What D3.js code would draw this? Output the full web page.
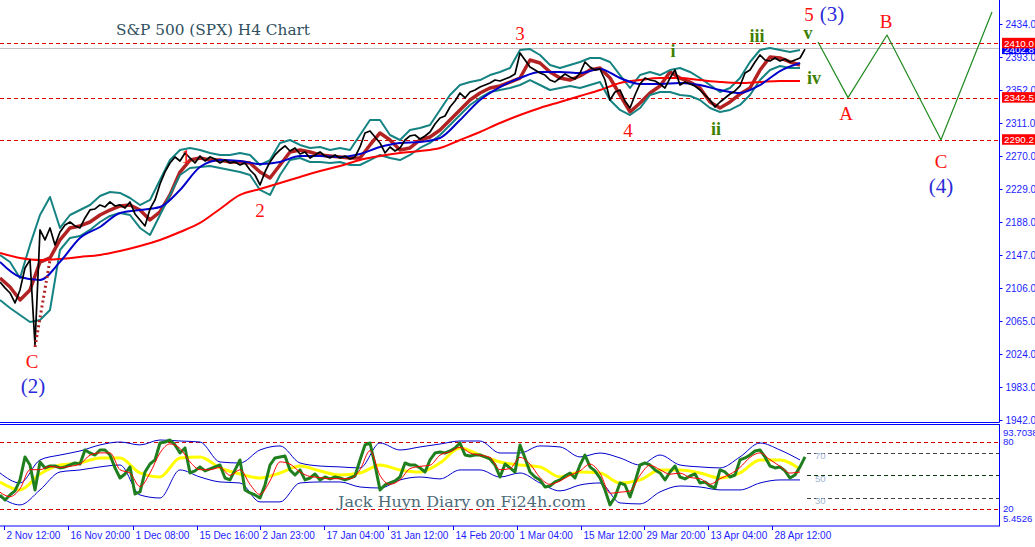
<!DOCTYPE html>
<html>
<head>
<meta charset="utf-8">
<script src="https://cdn.jsdelivr.net/npm/d3@7"></script>
<style>
  body { margin: 0; background: #fff; }
  svg { display: block; }
</style>
</head>
<body>
<svg id="chart" width="1035" height="547"></svg>
<script>
// ---- data ----

// closes, one value every 5 bars
const closeStep = 5
const closes = [2113.5, 2106.1, 2099.8, 2087.4, 2103.6, 2130.9, 2140.8, 2035.3, 2178.1, 2165.7,
  2180.6, 2159.5, 2175.6, 2184.3, 2188.0, 2183.1, 2180.6, 2193.0, 2203.0, 2204.2,
  2209.2, 2206.7, 2212.9, 2207.9, 2209.2, 2205.4, 2212.9, 2198.0, 2190.5, 2183.1,
  2204.2, 2215.4, 2235.2, 2250.2, 2261.3, 2268.8, 2263.8, 2273.8, 2267.5, 2261.3,
  2270.0, 2263.8, 2268.8, 2266.3, 2261.3, 2265.1, 2261.3, 2262.6, 2258.8, 2261.3,
  2252.6, 2246.4, 2234.0, 2250.2, 2262.6, 2271.3, 2277.5, 2282.5, 2276.2, 2280.0,
  2272.5, 2275.0, 2267.5, 2271.3, 2275.0, 2270.0, 2267.5, 2271.3, 2267.5, 2270.0,
  2266.3, 2268.8, 2281.2, 2298.6, 2301.1, 2293.6, 2286.2, 2273.8, 2281.2, 2276.2,
  2280.0, 2289.9, 2294.9, 2296.1, 2291.1, 2294.9, 2299.8, 2309.8, 2317.2, 2319.7,
  2330.9, 2338.4, 2348.3, 2342.1, 2349.5, 2352.0, 2355.7, 2358.2, 2360.7, 2364.4,
  2363.2, 2365.7, 2368.2, 2371.9, 2398.0, 2389.3, 2380.6, 2376.9, 2373.1, 2370.6,
  2364.4, 2362.0, 2366.9, 2371.9, 2368.2, 2365.7, 2373.1, 2386.8, 2380.6, 2376.9,
  2378.1, 2364.4, 2339.6, 2349.5, 2352.0, 2338.4, 2329.7, 2345.8, 2359.5, 2366.9,
  2364.4, 2363.2, 2359.5, 2354.5, 2366.9, 2376.9, 2358.2, 2362.0, 2359.5, 2357.0,
  2352.0, 2345.8, 2339.6, 2330.9, 2337.1, 2342.1, 2347.0, 2350.8, 2357.0, 2373.1,
  2376.9, 2386.8, 2395.5, 2389.3, 2388.0, 2391.8, 2388.0, 2390.5, 2386.8, 2389.3,
  2391.8, 2402.8]

// overlays every 10 bars
const bandStep = 10
const envUpper = [2147.0, 2138.3, 2118.5, 2159.5, 2196.7, 2219.1, 2180.6, 2196.7, 2202.9, 2209.1,
  2220.3, 2225.3, 2224.1, 2217.8, 2209.1, 2215.4, 2240.2, 2265.0, 2277.5, 2280.0,
  2277.5, 2273.7, 2271.3, 2271.3, 2273.7, 2271.3, 2258.8, 2265.0, 2286.2, 2289.9,
  2283.7, 2280.0, 2281.2, 2277.5, 2280.0, 2277.5, 2296.1, 2314.7, 2314.7, 2296.1,
  2289.9, 2302.3, 2304.8, 2308.5, 2327.2, 2345.8, 2358.2, 2361.9, 2364.4, 2370.6,
  2374.4, 2379.3, 2401.7, 2402.9, 2395.5, 2383.1, 2379.3, 2383.1, 2386.8, 2391.8,
  2391.8, 2386.8, 2370.6, 2354.5, 2370.6, 2374.4, 2370.6, 2376.8, 2379.3, 2374.4,
  2366.9, 2358.2, 2349.5, 2354.5, 2366.9, 2386.8, 2401.7, 2404.2, 2401.7, 2399.2,
  2401.7]
const envLower = [2091.1, 2081.2, 2072.5, 2063.8, 2066.3, 2078.7, 2153.2, 2168.2, 2170.6, 2178.1,
  2188.0, 2195.5, 2199.2, 2196.7, 2180.6, 2171.9, 2196.7, 2221.6, 2246.4, 2255.1,
  2256.4, 2257.6, 2255.1, 2252.6, 2250.1, 2246.4, 2227.8, 2221.6, 2246.4, 2265.0,
  2267.5, 2262.6, 2262.6, 2261.3, 2262.6, 2258.8, 2258.8, 2265.0, 2271.3, 2267.5,
  2265.0, 2271.3, 2280.0, 2286.2, 2296.1, 2308.5, 2320.9, 2333.4, 2342.1, 2349.5,
  2352.0, 2354.5, 2358.2, 2364.4, 2358.2, 2352.0, 2354.5, 2357.0, 2354.5, 2358.2,
  2361.9, 2339.6, 2327.2, 2320.9, 2329.6, 2345.8, 2349.5, 2349.5, 2345.8, 2344.5,
  2339.6, 2329.6, 2324.7, 2327.2, 2333.4, 2345.8, 2364.4, 2376.8, 2381.8, 2379.3,
  2379.3]
const shiftedMa = [2118.5, 2107.3, 2091.1, 2103.6, 2138.3, 2143.3, 2165.7, 2180.6, 2183.1, 2188.0,
  2196.7, 2202.9, 2207.9, 2209.1, 2202.9, 2190.5, 2200.5, 2221.6, 2250.1, 2265.0,
  2267.5, 2265.0, 2265.0, 2262.6, 2262.6, 2261.3, 2250.1, 2242.7, 2258.8, 2275.0,
  2277.5, 2275.0, 2271.3, 2270.0, 2268.8, 2267.5, 2267.5, 2283.7, 2298.6, 2289.9,
  2277.5, 2280.0, 2289.9, 2293.6, 2302.3, 2314.7, 2327.2, 2339.6, 2348.3, 2354.5,
  2357.0, 2361.9, 2366.9, 2389.3, 2385.5, 2374.4, 2366.9, 2364.4, 2369.4, 2376.8,
  2379.3, 2366.9, 2345.8, 2324.7, 2335.9, 2348.3, 2357.0, 2374.4, 2366.9, 2361.9,
  2354.5, 2337.1, 2329.6, 2337.1, 2347.0, 2354.5, 2376.8, 2393.0, 2391.8, 2386.8,
  2383.1]

// moving averages every 20 bars
const maStep = 20
const blueMa = [2138.4, 2119.7, 2116.0, 2138.4, 2168.2, 2181.8, 2199.2, 2203.0, 2206.7, 2227.8,
  2256.4, 2265.1, 2263.8, 2260.1, 2262.6, 2270.0, 2270.0, 2268.8, 2272.5, 2281.2,
  2286.2, 2287.4, 2292.4, 2314.7, 2339.6, 2355.7, 2366.9, 2374.4, 2374.4, 2373.1,
  2378.1, 2366.9, 2359.5, 2359.5, 2360.7, 2358.2, 2352.0, 2348.3, 2358.2, 2375.6,
  2385.6]
const redMa = [2149.5, 2143.3, 2140.8, 2142.1, 2144.6, 2147.1, 2152.0, 2158.2, 2165.7, 2175.6,
  2186.8, 2204.2, 2221.6, 2229.0, 2236.5, 2243.9, 2251.4, 2257.6, 2265.1, 2270.0,
  2273.8, 2276.2, 2280.0, 2289.9, 2299.8, 2311.0, 2321.0, 2329.7, 2337.1, 2344.6,
  2352.0, 2360.7, 2364.4, 2366.9, 2366.9, 2364.4, 2362.0, 2360.7, 2362.0, 2363.2,
  2363.2]

// dotted leg from the (2) low, [bar, price]
const dottedLeg = [[35, 2032.8], [50, 2140.8]]

// levels
const levels = [2410.0, 2342.5, 2290.2]
const lastPrice = 2402.8

// projected path 5 - A - B - C - up, [bar, price]
const projection = [[818, 2411.6], [848, 2342.5], [887, 2420.3], [941, 2290.2], [992, 2448.9]]

// wave counts, [text, bar, price, kind]
const waves = [
  ['C', 32, 2014.1, 'red'], ['(2)', 33, 1984.3, 'blue'],
  ['1', 186, 2268.8, 'red'], ['2', 260, 2202.9, 'red'],
  ['3', 520, 2422.8, 'red'], ['4', 628, 2302.3, 'red'],
  ['i', 673, 2400.5, 'green'], ['ii', 716, 2303.6, 'green'],
  ['iii', 757, 2419.1, 'green'], ['iv', 814, 2366.9, 'green'], ['v', 808, 2422.8, 'green'],
  ['5', 809, 2446.4, 'red'], ['(3)', 832, 2446.4, 'blue'],
  ['A', 846, 2322.2, 'red'], ['B', 886, 2436.5, 'red'],
  ['C', 941, 2262.6, 'red'], ['(4)', 941, 2232.8, 'blue']
]

// oscillator
const rsiStep = 5
const rsi = [32.5, 28.0, 32.5, 36.1, 45.9, 66.4, 59.2, 37.0, 61.9, 56.6,
  58.3, 58.3, 56.6, 57.5, 59.2, 61.0, 60.1, 72.6, 69.9, 68.1,
  72.6, 72.6, 68.1, 56.6, 47.6, 51.2, 57.5, 33.4, 35.2, 53.0,
  60.1, 63.7, 78.8, 79.7, 81.5, 77.1, 69.9, 74.4, 52.1, 53.9,
  57.5, 53.9, 55.7, 57.5, 59.2, 47.6, 45.9, 54.8, 63.7, 37.0,
  34.3, 32.5, 29.8, 41.4, 59.2, 65.5, 66.4, 67.3, 54.8, 50.3,
  54.8, 45.9, 47.6, 51.2, 45.9, 48.5, 46.8, 48.5, 47.6, 45.9,
  47.6, 49.4, 63.7, 77.1, 78.8, 59.2, 37.0, 41.4, 43.2, 45.0,
  48.5, 61.0, 59.2, 59.2, 56.6, 53.0, 63.7, 69.9, 70.8, 69.9,
  71.7, 74.4, 78.8, 68.1, 67.3, 68.1, 68.1, 66.4, 64.6, 59.2,
  48.5, 60.1, 56.6, 53.0, 77.1, 65.5, 53.0, 48.5, 45.9, 39.6,
  40.5, 44.1, 45.9, 49.4, 52.1, 47.6, 59.2, 68.1, 57.5, 53.9,
  47.6, 37.0, 23.6, 30.7, 43.2, 41.4, 30.7, 44.1, 59.2, 61.0,
  59.2, 54.8, 52.1, 45.9, 53.0, 58.3, 48.5, 46.8, 49.4, 51.2,
  43.2, 44.1, 40.5, 38.7, 54.8, 53.0, 48.5, 50.3, 63.7, 65.5,
  68.1, 71.7, 72.6, 66.4, 58.3, 56.6, 57.5, 53.9, 47.6, 50.3,
  57.5, 66.4]
const signalStep = 10
const rsiSignal = [35, 31, 38, 55, 55, 58, 57, 58, 60, 68,
  70, 70, 55, 52, 40, 52, 70, 78, 74, 62,
  55, 55, 57, 50, 55, 42, 33, 45, 62, 60,
  53, 49, 48, 47, 47, 47, 55, 72, 50, 42,
  46, 56, 58, 59, 68, 71, 75, 70, 68, 66,
  55, 56, 66, 60, 48, 42, 45, 50, 54, 60,
  52, 34, 35, 36, 50, 59, 55, 51, 52, 48,
  47, 42, 47, 51, 57, 66, 70, 64, 58, 52,
  53]
const slowStep = 20
const rsiSlow = [44.1, 37.0, 51.2, 59.2, 61.0, 65.5, 65.5, 52.1, 48.5, 65.5,
  66.4, 56.6, 51.2, 47.6, 52.1, 58.3, 53.9, 50.3, 52.1, 59.2,
  54.8, 53.0, 61.0, 74.4, 68.1, 61.9, 59.2, 57.5, 48.5, 53.0,
  52.1, 43.2, 45.9, 54.8, 54.8, 52.1, 47.6, 52.1, 63.7, 63.7,
  55.7]
const rsiBandUp = [52.1, 43.2, 63.7, 68.1, 71.7, 77.1, 79.7, 77.1, 81.5, 80.6,
  79.7, 61.9, 61.0, 72.6, 76.2, 61.0, 58.3, 57.5, 56.6, 78.8,
  72.6, 75.3, 77.9, 80.6, 80.6, 69.9, 69.9, 76.2, 75.3, 66.4,
  69.9, 65.5, 59.2, 68.1, 59.2, 57.5, 56.6, 66.4, 78.8, 72.6,
  63.7]
const rsiBandLo = [30.7, 23.6, 37.0, 53.0, 54.8, 57.5, 59.2, 32.5, 29.8, 54.8,
  48.5, 44.1, 43.2, 26.3, 26.3, 43.2, 44.1, 44.1, 39.6, 38.7,
  45.9, 48.5, 46.8, 54.8, 54.8, 48.5, 52.1, 43.2, 36.1, 41.4,
  43.2, 25.4, 24.5, 35.2, 40.5, 39.6, 37.0, 37.0, 43.2, 45.9,
  45.9]
const rsiOuter = [80, 20]
const rsiInner = [70, 50, 30]
const rsiMin = 5.4526, rsiMax = 93.7038

// axes
const priceTicks = [2434, 2393, 2352, 2311, 2270, 2229, 2188, 2147, 2106, 2065, 2024, 1983, 1942]
const timeBars = [4, 68, 133, 197, 260, 324, 388, 453, 517, 581, 644, 708, 772]
const timeLabels = ['2 Nov 12:00', '16 Nov 20:00', '1 Dec 08:00', '15 Dec 16:00', '2 Jan 23:00',
  '17 Jan 04:00', '31 Jan 12:00', '14 Feb 20:00', '1 Mar 04:00', '15 Mar 12:00',
  '29 Mar 20:00', '13 Apr 04:00', '28 Apr 12:00']

// ---- layout ----
const plotRight = 999
const mainBottom = 422
const indTop = 424.5, indBottom = 526
const sans = '"Liberation Sans", Arial, sans-serif'
const serif = '"Liberation Serif", "Times New Roman", serif'
const axisBlue = '#0000ff'
const labelBlue = '#1c1cff'

const svg = d3.select('#chart')

const x = d3.scaleLinear().domain([0, plotRight]).range([0, plotRight])
const y = d3.scaleLinear().domain([1942, 2434]).range([420, 24])
const yi = d3.scaleLinear().domain([rsiMin, rsiMax]).range([525.3, 426.3])

const series = (values, step) => values.map((v, i) => [i * step, v])
const mainLine = curve => d3.line().x(d => x(d[0])).y(d => y(d[1])).curve(curve || d3.curveLinear)
const indLine = curve => d3.line().x(d => x(d[0])).y(d => yi(d[1])).curve(curve || d3.curveLinear)

const defs = svg.append('defs')
defs.append('clipPath').attr('id', 'clip-main')
  .append('rect').attr('x', 0).attr('y', 0).attr('width', plotRight).attr('height', mainBottom)
defs.append('clipPath').attr('id', 'clip-ind')
  .append('rect').attr('x', 0).attr('y', indTop).attr('width', plotRight).attr('height', indBottom - indTop)

// ---- main panel ----
const main = svg.append('g').attr('clip-path', 'url(#clip-main)')

main.selectAll('line.level').data(levels).enter()
  .append('line')
    .attr('class', 'level')
    .attr('x1', 0).attr('x2', plotRight)
    .attr('y1', d => Math.round(y(d)) + 0.5).attr('y2', d => Math.round(y(d)) + 0.5)
    .attr('stroke', '#e00000')
    .attr('stroke-dasharray', '4,3')

main.append('line')
  .attr('x1', 0).attr('x2', plotRight)
  .attr('y1', Math.round(y(lastPrice)) - 0.5).attr('y2', Math.round(y(lastPrice)) - 0.5)
  .attr('stroke', '#c0c0c0')

const drawMain = (data, color, width, curve) => main.append('path')
  .datum(data)
  .attr('d', mainLine(curve))
  .attr('fill', 'none')
  .attr('stroke', color)
  .attr('stroke-width', width)
  .attr('stroke-linejoin', 'round')

drawMain(series(shiftedMa, bandStep), '#b22222', 3.5)
drawMain(series(envUpper, bandStep), '#168383', 2)
drawMain(series(envLower, bandStep), '#168383', 2)
drawMain(series(redMa, maStep), '#ff0000', 2, d3.curveMonotoneX)
drawMain(series(blueMa, maStep), '#0000cc', 2, d3.curveMonotoneX)
drawMain(series(closes, closeStep), '#000000', 1.7)
drawMain(dottedLeg, '#b22222', 3)
  .attr('stroke-dasharray', '2,3')
drawMain(projection, '#1f8a1f', 1.2)

// wave labels
const waveStyle = {
  red: { fill: '#ff1010', size: 19, weight: 'normal' },
  blue: { fill: '#2b2bd9', size: 21, weight: 'normal' },
  green: { fill: '#3d7f00', size: 18, weight: 'bold' }
}
svg.append('g').selectAll('text').data(waves).enter()
  .append('text')
    .attr('x', d => x(d[1]))
    .attr('y', d => y(d[2]))
    .attr('text-anchor', 'middle')
    .attr('dominant-baseline', 'central')
    .attr('font-family', serif)
    .attr('font-size', d => waveStyle[d[3]].size)
    .attr('font-weight', d => waveStyle[d[3]].weight)
    .attr('fill', d => waveStyle[d[3]].fill)
    .text(d => d[0])

svg.append('text')
  .attr('x', 116).attr('y', 35)
  .attr('font-family', '"DejaVu Serif", serif')
  .attr('font-size', 15.5)
  .attr('fill', '#30505e')
  .attr('textLength', 194)
  .attr('lengthAdjust', 'spacingAndGlyphs')
  .text('S&P 500 (SPX) H4 Chart')

// frame + price axis
svg.append('line')
  .attr('x1', 0).attr('x2', plotRight + 0.5)
  .attr('y1', mainBottom + 0.5).attr('y2', mainBottom + 0.5)
  .attr('stroke', axisBlue)
svg.append('line')
  .attr('x1', plotRight + 0.5).attr('x2', plotRight + 0.5)
  .attr('y1', 0).attr('y2', mainBottom + 0.5)
  .attr('stroke', axisBlue)

const priceAxis = svg.append('g')
  .attr('transform', `translate(${plotRight + 0.5},0)`)
  .call(d3.axisRight(y).tickValues(priceTicks).tickFormat(d3.format('.1f')).tickSize(3).tickPadding(3))
priceAxis.select('.domain').remove()
priceAxis.selectAll('line').attr('stroke', axisBlue)
priceAxis.selectAll('text')
  .attr('fill', labelBlue)
  .attr('font-family', sans)
  .attr('font-size', 10)

// price tags: last price under the level tags
const tag = (value, bg) => {
  const g = svg.append('g').attr('transform', `translate(${plotRight + 3},${y(value)})`)
  g.append('rect').attr('x', 0).attr('y', -5.5).attr('width', 33).attr('height', 10.5).attr('fill', bg)
  g.append('text')
    .attr('x', 2).attr('y', 0).attr('dy', '0.36em')
    .attr('font-family', sans).attr('font-size', 9.8)
    .attr('fill', '#fff')
    .text(d3.format('.1f')(value))
}
tag(lastPrice, '#0000ff')
levels.forEach(v => tag(v, '#ff0000'))

// ---- oscillator panel ----
const ind = svg.append('g').attr('clip-path', 'url(#clip-ind)')

ind.selectAll('line.outer').data(rsiOuter).enter()
  .append('line')
    .attr('x1', 0).attr('x2', plotRight)
    .attr('y1', d => Math.round(yi(d)) + 0.5).attr('y2', d => Math.round(yi(d)) + 0.5)
    .attr('stroke', '#d40000')
    .attr('stroke-dasharray', '4,3')

const innerStart = (rsi.length - 1) * rsiStep + 2
ind.selectAll('line.inner').data(rsiInner).enter()
  .append('line')
    .attr('x1', x(innerStart)).attr('x2', plotRight)
    .attr('y1', d => Math.round(yi(d)) + 0.5).attr('y2', d => Math.round(yi(d)) + 0.5)
    .attr('stroke', d => d === 50 ? '#0b3a0b' : '#444')
    .attr('stroke-dasharray', '4,3')

ind.selectAll('text.inner').data(rsiInner).enter()
  .append('text')
    .attr('x', x(innerStart + 8)).attr('y', d => yi(d) + 3)
    .attr('dy', '0.35em')
    .attr('font-family', sans).attr('font-size', 9.6)
    .attr('fill', '#9fb4d0')
    .text(d => d)

const drawInd = (data, color, width, curve) => ind.append('path')
  .datum(data)
  .attr('d', indLine(curve))
  .attr('fill', 'none')
  .attr('stroke', color)
  .attr('stroke-width', width)
  .attr('stroke-linejoin', 'round')

drawInd(series(rsiBandUp, slowStep), '#0000cc', 1, d3.curveMonotoneX)
drawInd(series(rsiBandLo, slowStep), '#0000cc', 1, d3.curveMonotoneX)
drawInd(series(rsiSlow, slowStep), '#ffff00', 3, d3.curveMonotoneX)
drawInd(series(rsi, rsiStep), '#1f7f1f', 3)
drawInd(series(rsiSignal, signalStep), '#ff0000', 1, d3.curveMonotoneX)

svg.append('text')
  .attr('x', 338).attr('y', 507)
  .attr('font-family', '"DejaVu Serif", serif')
  .attr('font-size', 15)
  .attr('fill', '#4c6a78')
  .attr('textLength', 248)
  .attr('lengthAdjust', 'spacingAndGlyphs')
  .text('Jack Huyn Diary on Fi24h.com')

svg.append('rect')
  .attr('x', -1).attr('y', indTop)
  .attr('width', plotRight + 1.5).attr('height', indBottom - indTop)
  .attr('fill', 'none')
  .attr('stroke', axisBlue)

// oscillator scale labels
const indLabels = [[rsiMax, indTop + 8], [80, yi(80)], [20, yi(20)], [rsiMin, indBottom - 7]]
svg.append('g').selectAll('text').data(indLabels).enter()
  .append('text')
    .attr('x', plotRight + 4).attr('y', d => d[1])
    .attr('dy', '0.35em')
    .attr('font-family', sans).attr('font-size', 9.6)
    .attr('fill', labelBlue)
    .text(d => d[0])

// ---- time axis ----
const timeAxis = svg.append('g')
  .attr('transform', `translate(0,${indBottom})`)
  .call(d3.axisBottom(x).tickValues(timeBars).tickFormat((d, i) => timeLabels[i]).tickSize(4).tickPadding(2))
timeAxis.select('.domain').remove()
timeAxis.selectAll('line').attr('stroke', axisBlue)
timeAxis.selectAll('text')
  .attr('text-anchor', 'start')
  .attr('x', 2)
  .attr('fill', labelBlue)
  .attr('font-family', sans)
  .attr('font-size', 10)
</script>
</body>
</html>
